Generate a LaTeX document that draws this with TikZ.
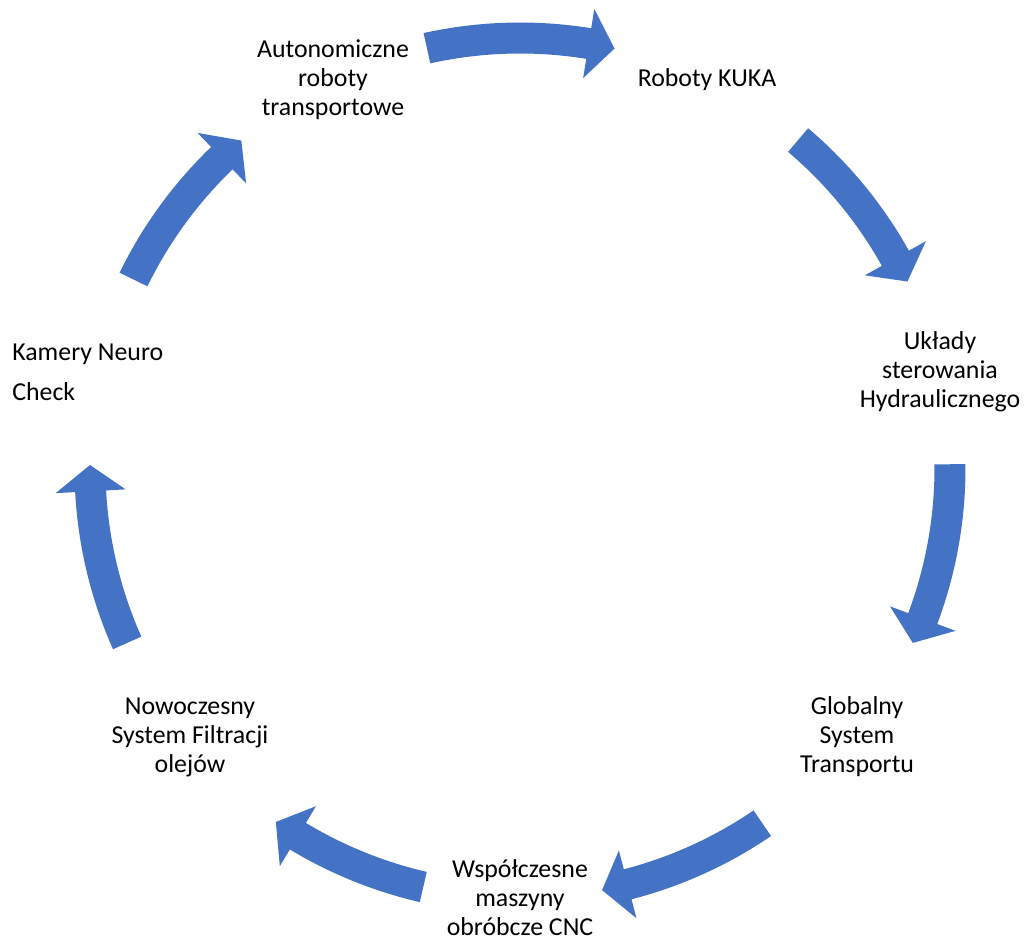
\documentclass[tikz,border=0pt]{standalone}
\usepackage{fontspec}
\setmainfont{Carlito}
\definecolor{cycleblue}{HTML}{4472C4}

\begin{document}
\begin{tikzpicture}[scale=0.2,
    lbl/.style = {
      align = center,
      inner sep = 0pt,
      font = \fontsize{14.7}{16.5}\selectfont
    },
    arr/.style = {
      fill = cycleblue
    }
  ]
  \useasboundingbox (0,0) rectangle (102.8,-94.2);
  \coordinate (O) at (52,-46.8);

  \foreach \s/\e in {102.5/77.3, 49.7/25.7, 0.5/-24, -55.7/-79, -103/-124.6, -156/-180.4, 154/130.4}
    \fill[arr, shift={(O)}] (\s:44.55) arc[start angle=\s, end angle=\e+3.5, radius=44.55]
      -- (\e+3.5:46.5) -- (\e:43) -- (\e+3.5:39.5) -- (\e+3.5:41.45)
      arc[start angle=\e+3.5, end angle=\s, radius=41.45] -- cycle;

  \draw (33.3,-8.0)  node[lbl] (auto) {Autonomiczne\\roboty\\transportowe};
  \draw (70.7,-8.0)  node[lbl] (kuka) {Roboty KUKA};
  \draw (94.0,-37.2) node[lbl] (hydr) {Układy\\sterowania\\Hydraulicznego};
  \draw (85.7,-73.7) node[lbl] (glob) {Globalny\\System\\Transportu};
  \draw (52.0,-89.8) node[lbl] (cnc)  {Współczesne\\maszyny\\obróbcze CNC};
  \draw (19.0,-73.7) node[lbl] (filt) {Nowoczesny\\System Filtracji\\olejów};
  \draw (1.2,-37.2)  node[lbl, anchor=west, align=left,
    font=\fontsize{14.7}{22.7}\selectfont] (neuro) {Kamery Neuro\\Check};
\end{tikzpicture}
\end{document}
